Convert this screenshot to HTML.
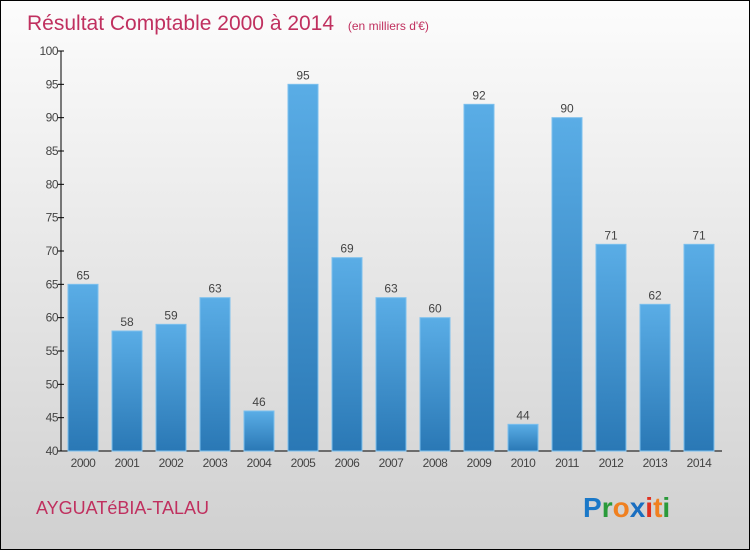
<!DOCTYPE html>
<html><head><meta charset="utf-8"><style>
body{margin:0;}
#wrap{position:relative;width:748px;height:548px;border:1px solid #000;background:linear-gradient(#fcfcfc,#d0d0d0);overflow:hidden;font-family:"Liberation Sans",sans-serif;}
</style></head><body>
<div id="wrap">
<svg id="chart" width="748" height="548">
<defs><linearGradient id="bg" x1="0" y1="0" x2="0" y2="1"><stop offset="0" stop-color="#5aade6"/><stop offset="1" stop-color="#2a78b5"/></linearGradient></defs>
<text x="26" y="29" font-size="21" fill="#c0305f">Résultat Comptable 2000 à 2014 <tspan font-size="12" dx="8">(en milliers d'€)</tspan></text>
<text x="35" y="513" font-size="18" fill="#c0305f">AYGUATéBIA-TALAU</text>
<g font-size="28" font-weight="bold">
<text x="582" y="516"><tspan fill="#1a78c8">P</tspan><tspan fill="#2a9a3a">r</tspan><tspan fill="#f08020">o</tspan><tspan fill="#1a6ec0">x</tspan><tspan fill="#e03020">i</tspan><tspan fill="#f08020">t</tspan><tspan fill="#2a9a3a">i</tspan></text>
</g>
<g id="plot"></g>
</svg>
</div>
<script>
const years=["2000","2001","2002","2003","2004","2005","2006","2007","2008","2009","2010","2011","2012","2013","2014"];
const values=[65,58,59,63,46,95,69,63,60,92,44,90,71,62,71];
const yTicks=[40,45,50,55,60,65,70,75,80,85,90,95,100];
const NS="http://www.w3.org/2000/svg";
const g=document.getElementById('plot');
const y=v=>450-(v-40)*(400/60);
const x=i=>82+i*44;
function mk(t,a){const e=document.createElementNS(NS,t);for(const k in a)e.setAttribute(k,a[k]);g.appendChild(e);return e;}
let ax=mk('line',{x1:60,y1:50,x2:60,y2:450,stroke:'#000'});


let bx=mk('line',{x1:60,y1:450,x2:721,y2:450,stroke:'#000'});


yTicks.forEach(t=>{
 let l=mk('line',{x1:57,y1:y(t),x2:63,y2:y(t),stroke:'#000'});
 
 
 let tx=mk('text',{x:57,y:y(t)+4,'font-size':12,'text-anchor':'end',fill:'#444','letter-spacing':'-0.5'});
 tx.textContent=t;
 
 
});
values.forEach((v,i)=>{
 let r=mk('rect',{x:x(i)-15,y:y(v),width:30,height:450-y(v),fill:'url(#bg)',stroke:'#7cc0ee','stroke-width':1});
 
 
 let vl=mk('text',{x:x(i),y:y(v)-5,'font-size':12,'text-anchor':'middle',fill:'#444'});
 vl.textContent=v;
 
 
 let xl=mk('text',{x:x(i),y:466,'font-size':12,'text-anchor':'middle',fill:'#444','letter-spacing':'-0.5'});
 xl.textContent=years[i];
 
 
});
</script>
</body></html>
